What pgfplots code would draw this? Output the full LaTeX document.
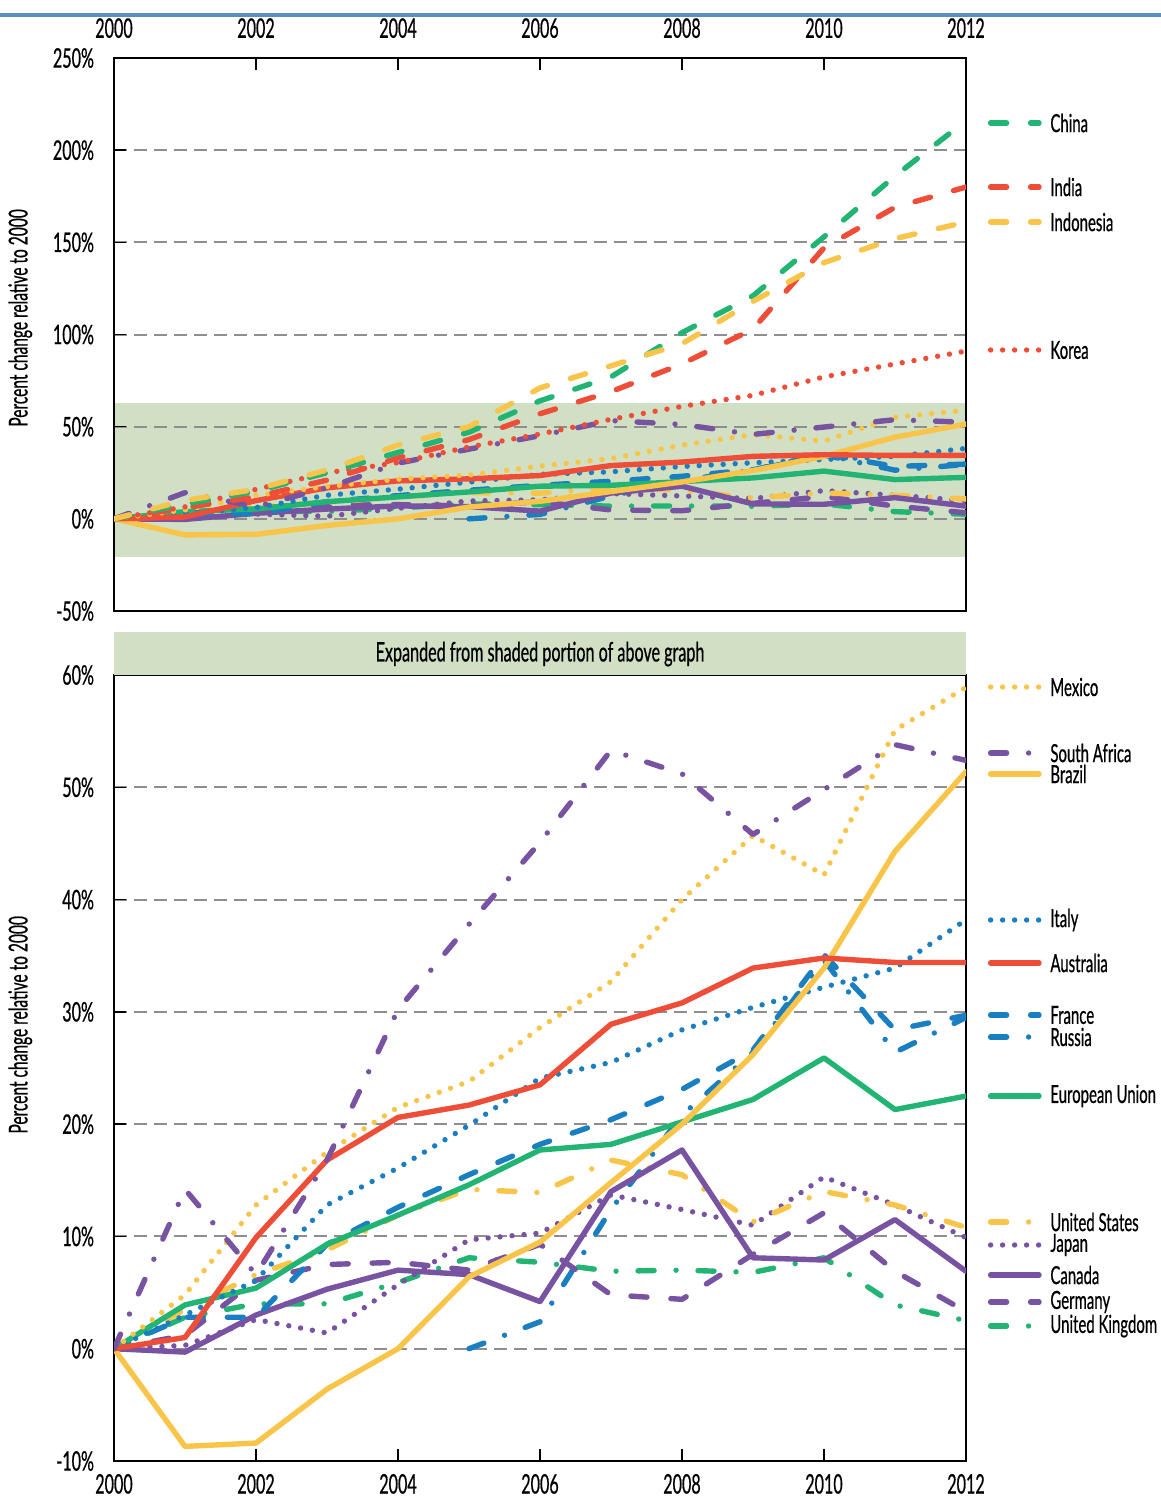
\documentclass[border=0pt]{standalone}
\usepackage{pgfplots}
\pgfplotsset{compat=1.18}
\usepackage{pgfplotstable}
\usepackage{fontspec}
\setmainfont{Lato}[FakeStretch=0.6, FakeBold=0.6]

\definecolor{cgreen}{HTML}{22B473}
\definecolor{cred}{HTML}{EE4D38}
\definecolor{cyellow}{HTML}{F8C449}
\definecolor{cpurple}{HTML}{7853A2}
\definecolor{cblue}{HTML}{1A7FC1}
\definecolor{cshade}{HTML}{D1E0C4}
\definecolor{cgrid}{HTML}{8E8E8E}
\definecolor{crule}{HTML}{5B8FC0}

\tikzset{
  solidl/.style={line width=2.7bp, line cap=round, line join=round},
  dashl/.style={solidl, dash pattern=on 8bp off 12bp},
  dotl/.style={solidl, dash pattern=on 0bp off 6bp},
  dashdotl/.style={solidl, dash pattern=on 8bp off 11bp on 0bp off 11bp},
}

% percent change relative to 2000
\pgfplotstableread{
year China India Indonesia Korea Mexico SAfrica Brazil Italy Australia France Russia EU US Japan Canada Germany UK
2000 0   0   0    0    0    0    0    0    0    0    nan  0    0    0    0    0    0
2001 8   6   10   6.5  4.8  14.2 -8.7 3.0  1.0  2.8  nan  3.9  3.5  0.3  -0.3 1.2  2.8
2002 15  12  16   16   12.8 6.6  -8.4 6.1  9.9  2.8  nan  5.4  6.6  2.6  3.0  6.1  4.0
2003 25  21  26.5 25   17.5 16.8 -3.6 12.8 16.8 9.3  nan  9.3  8.8  1.4  5.3  7.5  4.0
2004 36  33  40   30.5 21.5 30.2 0    16.1 20.6 12.6 nan  11.9 11.9 5.7  7.0  7.7  5.9
2005 47  43  50   39   23.8 37.8 6.4  19.9 21.7 15.5 0    14.6 14.2 9.7  6.6  7.0  8.1
2006 64  57  71   46   28.6 45.1 9.5  24.1 23.5 18.2 2.4  17.7 13.9 10.3 4.2  9.3  7.7
2007 77  69  83   54   32.7 53.3 14.8 25.5 28.9 20.4 12.4 18.2 16.8 13.7 14.0 4.8  6.9
2008 101 84  95   61   40.0 51.2 20.0 28.4 30.8 23.1 20.8 20.2 15.5 12.4 17.7 4.4  7.0
2009 121 103 118  67   45.7 45.8 26.2 30.4 33.9 26.6 26.4 22.2 11.3 11.0 8.1  8.4  6.8
2010 153 147 139  77   42.2 49.8 33.9 32.2 34.8 35.1 34.6 25.9 14.0 15.3 7.9  12.1 8.1
2011 186 169 152  84   55.1 53.8 44.3 33.9 34.4 28.4 26.4 21.3 12.8 12.8 11.5 6.9  3.9
2012 216 180 161  91   58.9 52.4 51.4 38.2 34.4 29.7 29.5 22.5 10.8 9.9  6.9  3.3  2.5
}\data

\pgfplotsset{
  base/.style={
    scale only axis, width=426bp,
    xmin=2000, xmax=2012, xtick={2000,2002,...,2012},
    /pgf/number format/assume math mode=true,
    x tick label style={/pgf/number format/1000 sep={}},
    yticklabel={\pgfmathprintnumber{\tick}\%},
    ytick pos=left, tick align=inside, major tick length=6bp,
    tick style={black, line width=0.8bp},
    axis line style={line width=1bp},
    ymajorgrids, grid style={cgrid, line width=1bp, dash pattern=on 6.5bp off 3.5bp},
    ticklabel style={font=\fontsize{13.5}{15}\selectfont},
    yticklabel style={xshift=-6.5bp},
    ylabel={Percent change relative to 2000},
    ylabel style={font=\fontsize{13}{15}\selectfont, anchor=center},
    set layers, no markers,
  },
}

\begin{document}
\begin{tikzpicture}
\draw[crule, line width=1.6bp] (0,-7.5bp) -- (580.5bp,-7.5bp);

% upper panel
\begin{axis}[base, at={(57bp,-305.5bp)}, anchor=south west, height=276.5bp,
  ymin=-50, ymax=250, ytick={-50,0,...,250},
  xtick pos=upper, xticklabel pos=upper,
  xticklabel style={yshift=6.5bp},
  ylabel style={at={(rel axis cs:-0.11,0.53)}}]
\addplot[on layer=axis background, draw=none, fill=cshade]
  coordinates {(2000,-20.6) (2012,-20.6) (2012,63) (2000,63)} -- cycle;
\addplot[cblue, dashdotl] table[x=year, y=Russia] {\data};
\addplot[cgreen, dashdotl] table[x=year, y=UK] {\data};
\addplot[cpurple, dashl] table[x=year, y=Germany] {\data};
\addplot[cpurple, dotl] table[x=year, y=Japan] {\data};
\addplot[cyellow, dashdotl] table[x=year, y=US] {\data};
\addplot[cpurple, solidl] table[x=year, y=Canada] {\data};
\addplot[cblue, dashl] table[x=year, y=France] {\data};
\addplot[cgreen, solidl] table[x=year, y=EU] {\data};
\addplot[cblue, dotl] table[x=year, y=Italy] {\data};
\addplot[cyellow, solidl] table[x=year, y=Brazil] {\data};
\addplot[cred, solidl] table[x=year, y=Australia] {\data};
\addplot[cyellow, dotl] table[x=year, y=Mexico] {\data};
\addplot[cpurple, dashdotl] table[x=year, y=SAfrica] {\data};
\addplot[cred, dotl] table[x=year, y=Korea] {\data};
\addplot[cred, dashl] table[x=year, y=India] {\data};
\addplot[cgreen, dashl] table[x=year, y=China] {\data};
\addplot[cyellow, dashl] table[x=year, y=Indonesia] {\data};
\end{axis}

% lower panel
\begin{axis}[base, at={(57bp,-730.5bp)}, anchor=south west, height=393bp,
  ymin=-10, ymax=60, ytick={-10,0,...,60},
  xtick pos=lower, xticklabel pos=lower,
  xticklabel style={yshift=-3bp},
  ylabel style={at={(rel axis cs:-0.11,0.555)}}]
\addplot[cblue, dashdotl] table[x=year, y=Russia] {\data};
\addplot[cgreen, dashdotl] table[x=year, y=UK] {\data};
\addplot[cpurple, dashl] table[x=year, y=Germany] {\data};
\addplot[cpurple, dotl] table[x=year, y=Japan] {\data};
\addplot[cyellow, dashdotl] table[x=year, y=US] {\data};
\addplot[cpurple, solidl] table[x=year, y=Canada] {\data};
\addplot[cblue, dashl] table[x=year, y=France] {\data};
\addplot[cgreen, solidl] table[x=year, y=EU] {\data};
\addplot[cblue, dotl] table[x=year, y=Italy] {\data};
\addplot[cyellow, solidl] table[x=year, y=Brazil] {\data};
\addplot[cred, solidl] table[x=year, y=Australia] {\data};
\addplot[cyellow, dotl] table[x=year, y=Mexico] {\data};
\addplot[cpurple, dashdotl] table[x=year, y=SAfrica] {\data};
\end{axis}

% caption band above the lower panel
\fill[cshade] (57bp,-316bp) rectangle (483bp,-337.5bp);
\node[font=\fontsize{13.5}{15}\selectfont] at (270bp,-327bp) {Expanded from shaded portion of above graph};

% line labels at the right
\newcommand\leg[3]{%
  \draw[#2] (495.3bp,#1bp) -- (519.5bp,#1bp);
  \node[anchor=west, inner sep=0pt, font=\fontsize{12.5}{14}\selectfont] at (525bp,#1bp) {#3};}
\leg{-61.5}{cgreen, dashl}{China}
\leg{-93.5}{cred, dashl}{India}
\leg{-111}{cyellow, dashl}{Indonesia}
\leg{-175}{cred, dotl}{Korea}
\leg{-343.5}{cyellow, dotl}{Mexico}
\leg{-376.5}{cpurple, dashdotl}{South Africa}
\leg{-387}{cyellow, solidl}{Brazil}
\leg{-460}{cblue, dotl}{Italy}
\leg{-481.5}{cred, solidl}{Australia}
\leg{-507.5}{cblue, dashl}{France}
\leg{-518.5}{cblue, dashdotl}{Russia}
\leg{-548}{cgreen, solidl}{European Union}
\leg{-611}{cyellow, dashdotl}{United States}
\leg{-622.5}{cpurple, dotl}{Japan}
\leg{-637.5}{cpurple, solidl}{Canada}
\leg{-651}{cpurple, dashl}{Germany}
\leg{-663}{cgreen, dashdotl}{United Kingdom}

\pgfresetboundingbox
\useasboundingbox (0,0) rectangle (580.5bp,-748.5bp);
\end{tikzpicture}
\end{document}
